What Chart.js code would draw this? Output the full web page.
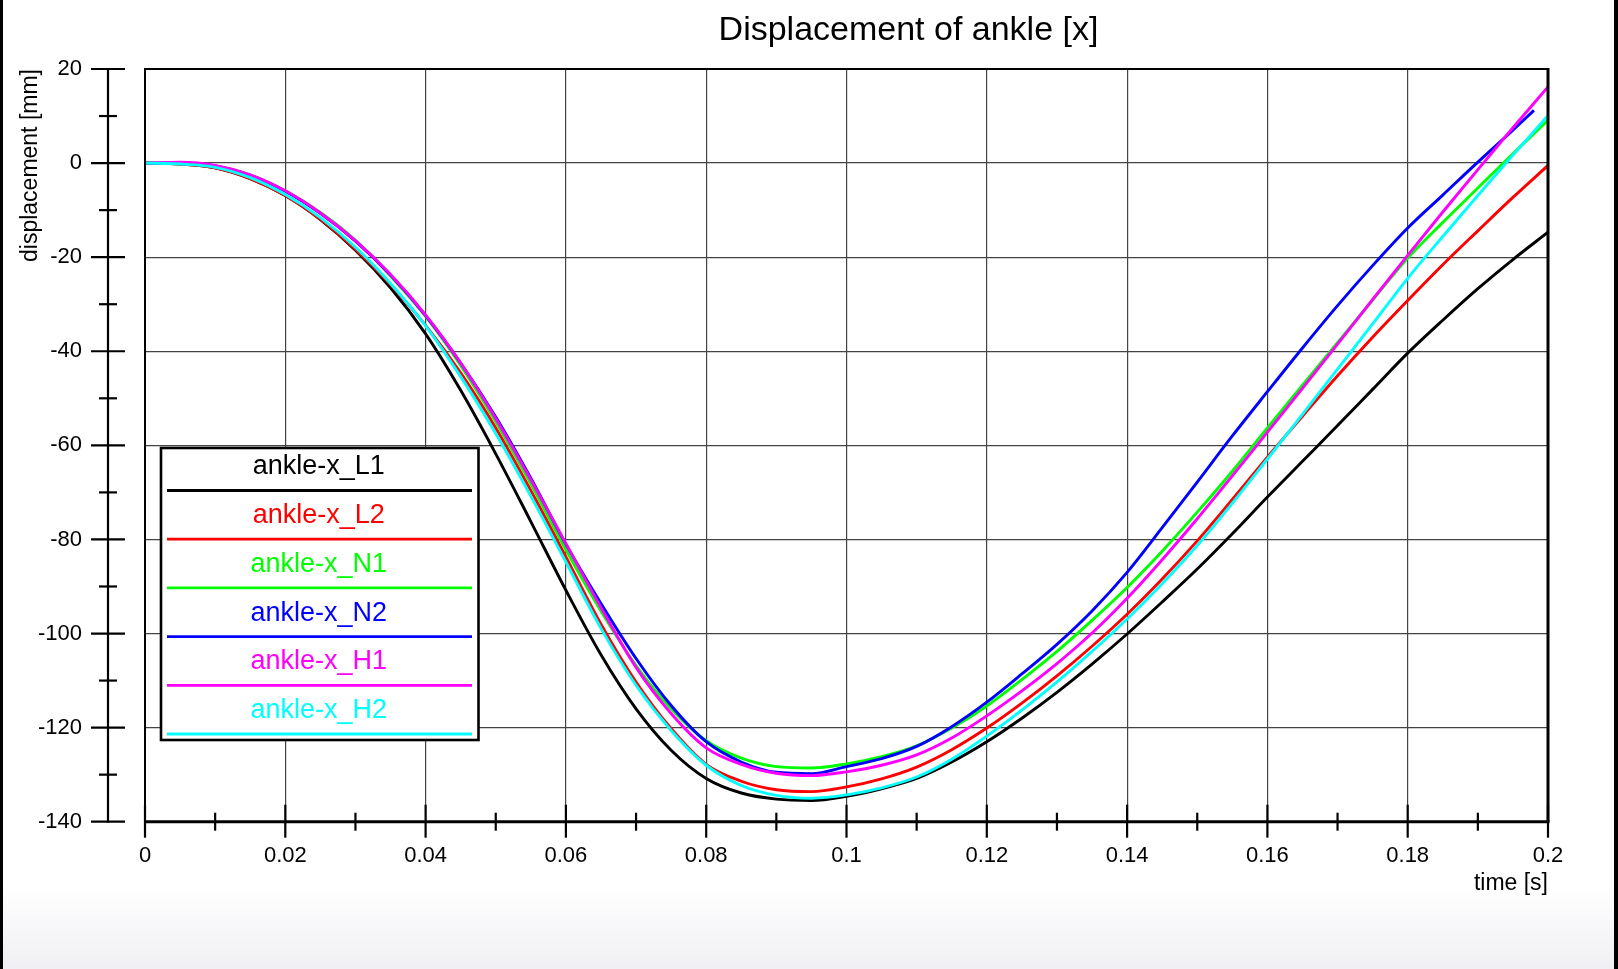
<!DOCTYPE html>
<html><head><meta charset="utf-8">
<script src="https://cdn.jsdelivr.net/npm/chart.js@4.4.1/dist/chart.umd.min.js"></script>
<style>html,body{margin:0;padding:0;background:#fff;overflow:hidden}canvas{display:block}</style>
</head><body>
<canvas id="c" width="1618" height="969"></canvas>
<script>
const chartTitle = 'Displacement of ankle [x]';
const xAxisTitle = 'time [s]';
const yAxisTitle = 'displacement [mm]';
const seriesNames = ['ankle-x_L1','ankle-x_L2','ankle-x_N1','ankle-x_N2','ankle-x_H1','ankle-x_H2'];
const seriesColors = ['#000000','#ff0000','#00ff00','#0000ff','#ff00ff','#00ffff'];

const time = [0,0.005,0.01,0.015,0.02,0.025,0.03,0.035,0.04,0.045,0.05,0.055,0.06,0.065,0.07,0.075,0.08,0.085,0.09,0.095,0.1,
  0.105,0.11,0.115,0.12,0.125,0.13,0.135,0.14,0.145,0.15,0.155,0.16,0.165,0.17,0.175,0.18,0.185,0.19,0.195,0.2];
const timeN2 = [0,0.005,0.01,0.015,0.02,0.025,0.03,0.035,0.04,0.045,0.05,0.055,0.06,0.065,0.07,0.075,0.08,0.085,0.09,0.095,0.1,
  0.105,0.11,0.115,0.12,0.125,0.13,0.135,0.14,0.145,0.15,0.155,0.16,0.165,0.17,0.175,0.18,0.185,0.19,0.195,0.198];

const ankleL1 = [0,-0.2,-1.0,-3.3,-6.9,-12.0,-18.5,-26.5,-36.3,-48.3,-61.8,-76.2,-90.8,-104.5,-116.0,-124.8,-130.8,-133.9,-135.2,-135.5,-134.6,
  -133.0,-130.8,-127.3,-123.0,-118.0,-112.5,-106.5,-100.1,-93.3,-86.3,-78.8,-71.0,-63.4,-55.8,-48.1,-40.4,-33.4,-26.7,-20.5,-14.7];
const ankleL2 = [0,-0.2,-1.0,-3.3,-6.9,-11.9,-18.3,-25.8,-34.5,-44.6,-56.3,-69.6,-83.7,-98.0,-110.3,-120.2,-127.8,-131.4,-133.2,-133.6,-132.6,
  -130.9,-128.4,-124.7,-120.1,-114.8,-109.0,-102.7,-95.9,-88.4,-80.3,-71.5,-62.5,-53.8,-45.2,-37.0,-29.2,-21.6,-14.4,-7.3,-0.5];
const ankleN1 = [0,0,-0.6,-2.5,-5.9,-10.5,-16.4,-24.0,-32.6,-43.0,-55.0,-68.2,-82.2,-95.2,-106.8,-116.0,-122.8,-126.5,-128.3,-128.6,-127.7,
  -126.2,-123.9,-120.1,-115.4,-109.8,-103.8,-97.2,-90.2,-82.5,-74.2,-65.5,-56.3,-47.2,-38.2,-29.1,-20.2,-12.6,-5.3,2.0,9.1];
const ankleN2 = [0,0,-0.6,-2.6,-6.0,-10.7,-16.6,-23.8,-32.4,-42.5,-54.0,-67.0,-81.0,-93.6,-105.3,-115.3,-123.0,-127.3,-129.5,-129.8,-128.3,
  -126.6,-124.0,-119.8,-114.6,-108.6,-102.3,-95.2,-87.0,-77.5,-67.8,-58.0,-48.6,-39.3,-30.3,-21.8,-13.8,-6.8,0.2,7.0,11.2];
const ankleH1 = [0,0.2,-0.5,-2.5,-5.9,-10.6,-16.5,-23.7,-32.3,-42.5,-54.3,-67.3,-80.9,-94.5,-107.2,-117.0,-124.3,-127.8,-129.7,-130.2,-129.4,
  -128.0,-125.8,-122.2,-117.5,-112.2,-106.4,-99.9,-92.5,-84.3,-75.6,-66.5,-57.2,-47.9,-38.5,-29.0,-19.6,-10.4,-1.4,7.5,16.2];
const ankleH2 = [0,-0.2,-0.9,-3.1,-6.7,-11.6,-17.9,-25.6,-34.6,-45.4,-57.5,-70.8,-84.8,-98.9,-111.0,-120.6,-128.0,-132.3,-134.4,-135.0,-134.3,
  -132.8,-130.5,-126.7,-121.8,-116.3,-110.3,-103.8,-96.9,-89.4,-81.3,-72.3,-62.9,-53.4,-43.8,-34.2,-24.5,-15.6,-6.9,1.7,10.1];

const xTickValues = [0,0.02,0.04,0.06,0.08,0.1,0.12,0.14,0.16,0.18,0.2];
const xTickLabels = ['0','0.02','0.04','0.06','0.08','0.1','0.12','0.14','0.16','0.18','0.2'];
const yTickValues = [-140,-120,-100,-80,-60,-40,-20,0,20];
const yTickLabels = ['-140','-120','-100','-80','-60','-40','-20','0','20'];

const FONT = "'Liberation Sans', Arial, Helvetica, sans-serif";
Chart.defaults.font.family = FONT;
Chart.defaults.color = '#000';

const seriesValues = [ankleL1, ankleL2, ankleN1, ankleN2, ankleH1, ankleH2];
const seriesTimes = [time, time, time, timeN2, time, time];

const datasets = seriesNames.map((name, i) => ({
  label: name,
  data: seriesValues[i].map((v, k) => ({x: seriesTimes[i][k], y: v})),
  borderColor: seriesColors[i],
  backgroundColor: seriesColors[i],
  borderWidth: 2.9,
  pointRadius: 0,
  fill: false,
  cubicInterpolationMode: 'monotone',
  order: seriesNames.length - i
}));

const decor = {
  id: 'decor',
  beforeDraw(chart) {
    const {ctx, width, height} = chart;
    ctx.save();
    ctx.fillStyle = '#ffffff';
    ctx.fillRect(0, 0, width, height);
    const g = ctx.createLinearGradient(0, 885, 0, height);
    g.addColorStop(0, 'rgba(240,240,244,0)');
    g.addColorStop(1, 'rgba(240,240,244,1)');
    ctx.fillStyle = g;
    ctx.fillRect(0, 885, width, height - 885);
    ctx.restore();
  },
  afterDraw(chart) {
    const {ctx, chartArea: a, scales: {x, y}} = chart;
    const seg = (x1, y1, x2, y2) => { ctx.beginPath(); ctx.moveTo(x1, y1); ctx.lineTo(x2, y2); ctx.stroke(); };
    ctx.save();
    ctx.strokeStyle = '#000';
    ctx.fillStyle = '#000';
    ctx.lineCap = 'butt';
    // page side borders
    ctx.fillRect(0, 0, 3, chart.height);
    ctx.fillRect(chart.width - 4, 0, 4, chart.height);
    // plot frame
    ctx.lineWidth = 2;
    seg(a.left, a.bottom, a.left, a.top);
    seg(a.left - 1, a.top, a.right + 1, a.top);
    ctx.lineWidth = 3;
    seg(a.right, a.top - 1, a.right, a.bottom);
    // x axis
    seg(a.left - 1, a.bottom, a.right + 1.5, a.bottom);
    ctx.lineWidth = 2.2;
    xTickValues.forEach((v, i) => {
      const px = x.getPixelForValue(v);
      seg(px, a.bottom - 17, px, a.bottom + 16);
      if (i < xTickValues.length - 1) {
        const pm = (px + x.getPixelForValue(xTickValues[i + 1])) / 2;
        seg(pm, a.bottom - 9, pm, a.bottom + 9);
      }
    });
    // y axis (offset)
    const yx = a.left - 37;
    ctx.lineWidth = 2.2;
    seg(yx, a.top, yx, a.bottom + 1);
    yTickValues.forEach((v, i) => {
      const py = y.getPixelForValue(v);
      seg(yx - 17, py, yx + 17, py);
      if (i < yTickValues.length - 1) {
        const pm = (py + y.getPixelForValue(yTickValues[i + 1])) / 2;
        seg(yx - 9, pm, yx + 9, pm);
      }
    });
    // legend
    const L = {left: 161, top: 448, right: 478.5, bottom: 740, step: 48.7};
    ctx.fillStyle = '#fff';
    ctx.fillRect(L.left, L.top, L.right - L.left, L.bottom - L.top);
    ctx.lineWidth = 2.6;
    ctx.strokeStyle = '#000';
    ctx.strokeRect(L.left, L.top, L.right - L.left, L.bottom - L.top);
    ctx.font = '27px ' + FONT;
    ctx.textAlign = 'center';
    ctx.textBaseline = 'middle';
    chart.data.datasets.forEach((ds, i) => {
      const ty = 467 + i * L.step;
      const ly = 490.5 + i * L.step;
      ctx.fillStyle = ds.borderColor;
      ctx.fillText(ds.label, (L.left + L.right) / 2 - 1, ty);
      ctx.strokeStyle = ds.borderColor;
      ctx.lineWidth = 2.8;
      seg(167, ly, 472, ly);
    });
    // title
    ctx.fillStyle = '#000';
    ctx.font = '34px ' + FONT;
    ctx.textAlign = 'center';
    ctx.textBaseline = 'alphabetic';
    ctx.fillText(chartTitle, 908.5, 40);
    ctx.restore();
  }
};

new Chart(document.getElementById('c'), {
  type: 'line',
  data: {datasets},
  plugins: [decor],
  options: {
    responsive: false,
    devicePixelRatio: 1,
    animation: false,
    events: [],
    layout: {padding: {left: 0, right: 70, top: 69, bottom: 0}},
    plugins: {legend: {display: false}, title: {display: false}, tooltip: {enabled: false}},
    scales: {
      x: {
        type: 'linear', min: 0, max: 0.2,
        afterBuildTicks: s => { s.ticks = xTickValues.map(v => ({value: v})); },
        afterFit: s => { s.height = 147.3; },
        ticks: {callback: (v, i) => xTickLabels[i], padding: 21, font: {size: 22}, color: '#000', maxRotation: 0, autoSkip: false},
        grid: {color: '#444444', lineWidth: 1.2, drawTicks: false},
        border: {display: false},
        title: {display: true, text: xAxisTitle, align: 'end', font: {size: 23}, color: '#000', padding: {top: 0, bottom: 72}}
      },
      y: {
        type: 'linear', min: -140, max: 20,
        afterBuildTicks: s => { s.ticks = yTickValues.map(v => ({value: v})); },
        afterFit: s => { s.width = 145; s.paddingTop = 0; s.paddingBottom = 0; },
        ticks: {callback: (v, i) => yTickLabels[i], padding: 63, font: {size: 22}, color: '#000', autoSkip: false},
        grid: {color: '#444444', lineWidth: 1.2, drawTicks: false},
        border: {display: false},
        title: {display: true, text: yAxisTitle, align: 'end', font: {size: 23}, color: '#000', padding: {top: 17, bottom: 0}}
      }
    }
  }
});
</script>
</body></html>
